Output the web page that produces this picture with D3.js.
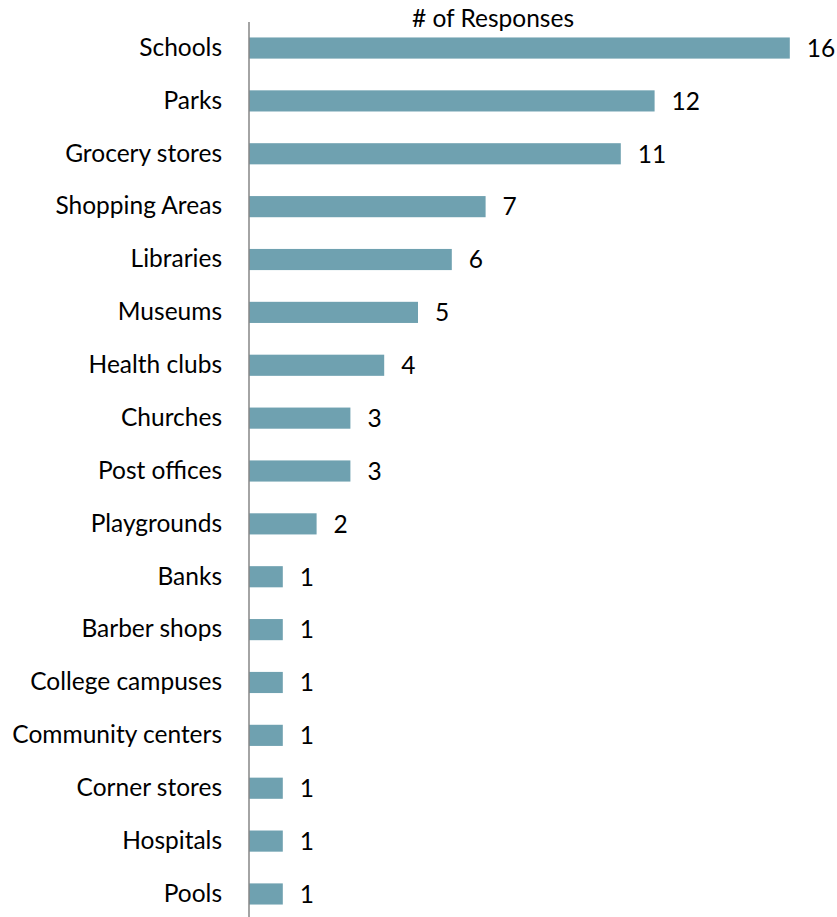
<!DOCTYPE html>
<html>
<head>
<meta charset="utf-8">
<script src="https://cdn.jsdelivr.net/npm/d3@7"></script>
<style>
  html, body { margin: 0; padding: 0; background: #fff; }
  svg text { font-family: Lato, "Open Sans", sans-serif; fill: #000; }
</style>
</head>
<body>
<svg id="chart" width="837" height="917"></svg>
<script>
// Places mentioned and how many responses each received
const categories = [
  "Schools", "Parks", "Grocery stores", "Shopping Areas", "Libraries",
  "Museums", "Health clubs", "Churches", "Post offices", "Playgrounds",
  "Banks", "Barber shops", "College campuses", "Community centers",
  "Corner stores", "Hospitals", "Pools"
];
const responses = [16, 12, 11, 7, 6, 5, 4, 3, 3, 2, 1, 1, 1, 1, 1, 1, 1];
const axisTitle = "# of Responses";

const svg = d3.select("#chart");
const x0 = 249;
const fontSize = 24.5;

const x = d3.scaleLinear().domain([0, 16]).range([x0, x0 + 16 * 33.8]);
const y = d3.scaleBand().domain(categories).range([21.6, 920.4]).paddingInner(0.6).paddingOuter(0.3);

// bars
svg.append("g").selectAll("rect")
  .data(categories)
  .join("rect")
  .attr("x", x(0))
  .attr("y", d => y(d))
  .attr("width", (d, i) => x(responses[i]) - x(0))
  .attr("height", y.bandwidth())
  .attr("fill", "#6fa1b0");

// value labels
svg.append("g").selectAll("text")
  .data(categories)
  .join("text")
  .attr("x", (d, i) => x(responses[i]) + 17)
  .attr("y", d => y(d) + y.bandwidth() / 2)
  .attr("dy", "0.36em")
  .attr("font-size", fontSize)
  .text((d, i) => responses[i]);

// category axis
const axis = svg.append("g")
  .attr("transform", `translate(${x0},0)`)
  .call(d3.axisLeft(y).tickSize(0).tickPadding(27));
axis.select(".domain").attr("stroke", "#868686").attr("stroke-width", 1.5)
  .attr("d", "M0,22V917");
axis.selectAll("text")
  .attr("font-size", fontSize)
  .attr("font-family", "Lato, sans-serif")
  .attr("fill", "#000");

// axis title
svg.append("text")
  .attr("x", 493)
  .attr("y", 27)
  .attr("text-anchor", "middle")
  .attr("font-size", fontSize)
  .text(axisTitle);
</script>
</body>
</html>
